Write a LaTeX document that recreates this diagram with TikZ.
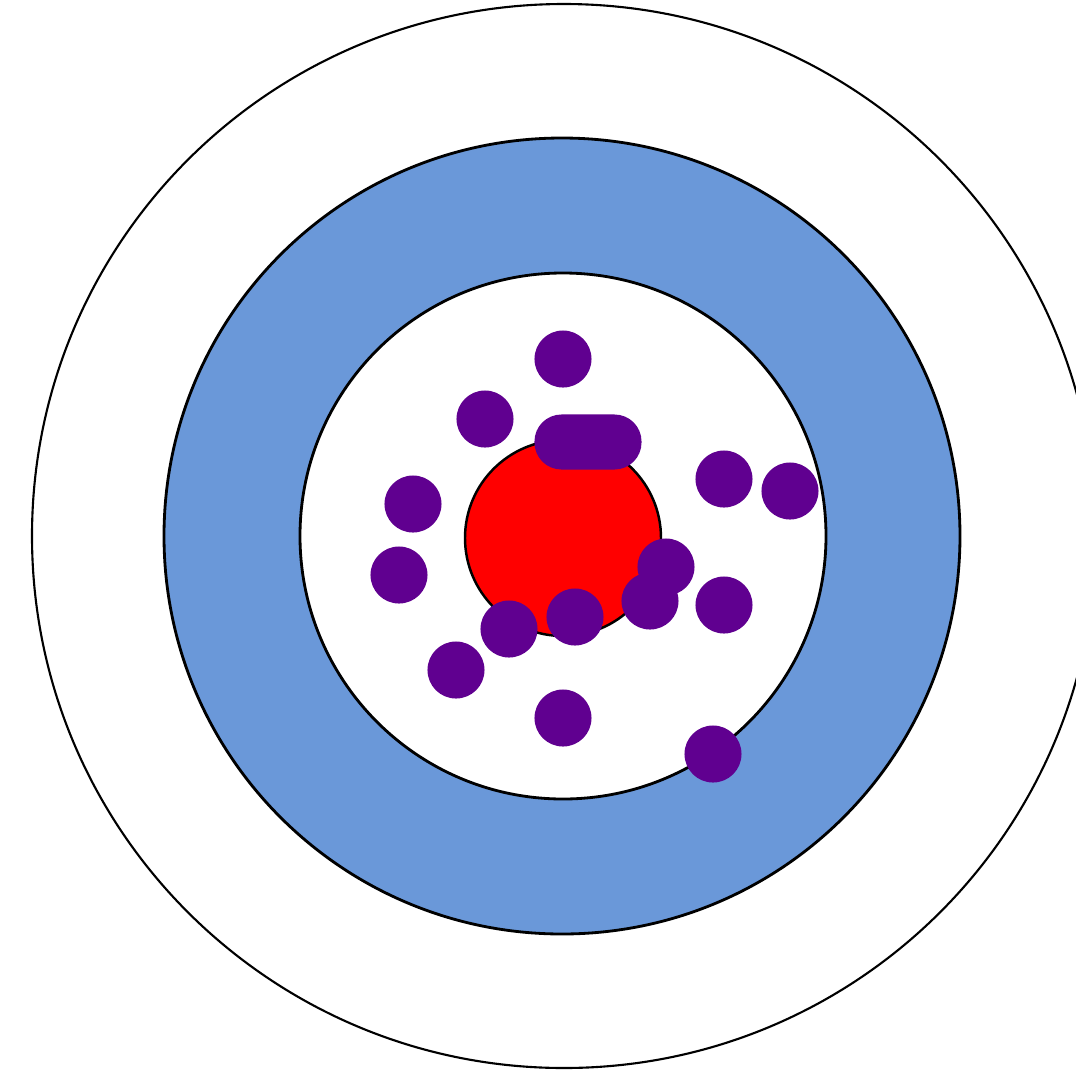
\documentclass[tikz,border=0pt]{standalone}
\definecolor{ringblue}{HTML}{6A98D9}
\definecolor{shotpurple}{HTML}{600090}
\definecolor{bullred}{HTML}{FF0000}
\tikzset{
  px/.style={x=0.01cm,y=-0.01cm},
  shot/.style={circle,fill=shotpurple,draw=none,inner sep=0pt,minimum size=0.57cm},
  ringline/.style={draw=black,line width=0.8pt}
}
\begin{document}
\begin{tikzpicture}[px]
\useasboundingbox (0,0) rectangle (1076,1081);
\clip (0,0) rectangle (1076,1081);
\fill[white] (0,0) rectangle (1076,1081);
% outer ring
\draw[draw=black,line width=0.6pt,fill=white] (564,536) circle[radius=532];
% blue ring
\draw[ringline,fill=ringblue] (562,536) circle[radius=398];
% inner white
\draw[ringline,fill=white] (563,536) circle[radius=263];
% bull
\draw[draw=black,line width=0.7pt,fill=bullred] (563,538) circle[radius=98];
% shots
\node[shot] (s1) at (563,359) {};
\node[shot] (s2) at (485,419) {};
\node[rectangle,fill=shotpurple,draw=none,inner sep=0pt,minimum width=1.07cm,minimum height=0.55cm,rounded corners=0.27cm] (s3) at (588,442) {};
\node[shot] (s4) at (724,479) {};
\node[shot] (s5) at (790,491) {};
\node[shot] (s6) at (413,504) {};
\node[shot] (s7) at (399,575) {};
\node[shot] (s8) at (666,567) {};
\node[shot] (s9) at (650,601) {};
\node[shot] (s10) at (724,605) {};
\node[shot] (s11) at (575,617) {};
\node[shot] (s12) at (509,629) {};
\node[shot] (s13) at (456,670) {};
\node[shot] (s14) at (563,718) {};
\node[shot] (s15) at (713,754) {};
\end{tikzpicture}
\end{document}
